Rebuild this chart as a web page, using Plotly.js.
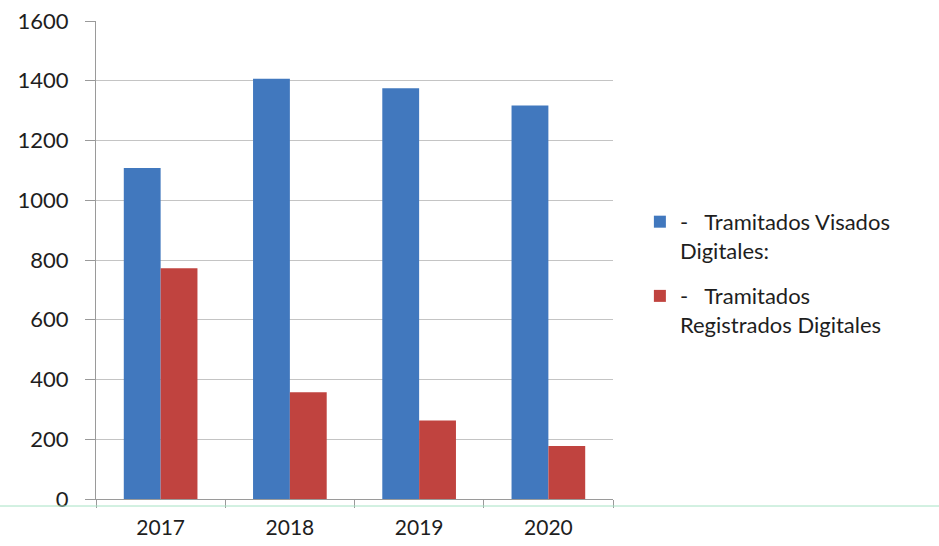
<!DOCTYPE html>
<html>
<head>
<meta charset="utf-8">
<script src="https://cdn.plot.ly/plotly-3.0.1.min.js"></script>
<style>html,body{margin:0;padding:0;background:#fff;}#chart{width:939px;height:546px;}</style>
</head>
<body>
<div id="chart"></div>
<script>
const years = ["2017", "2018", "2019", "2020"];
const visados = [1108, 1407, 1375, 1317];
const registrados = [772, 357, 263, 177];
const nameVisados = "-   Tramitados Visados<br>Digitales:";
const nameRegistrados = "-   Tramitados<br>Registrados Digitales";
const yTicks = [0, 200, 400, 600, 800, 1000, 1200, 1400, 1600];

const font = "Lato, 'Open Sans', sans-serif";

const data = [
  {type: "bar", x: years, y: visados, name: nameVisados, legendgroup: "a", marker: {color: "#4178BE"}},
  {type: "bar", x: years, y: registrados, name: nameRegistrados, legendgroup: "b", marker: {color: "#C0433F"}}
];

const layout = {
  width: 939, height: 546,
  margin: {l: 96, r: 326, t: 21, b: 47},
  paper_bgcolor: "#fff", plot_bgcolor: "#fff",
  font: {family: font, size: 22, color: "#1e1e1e"},
  barmode: "group",
  bargap: 0.43, bargroupgap: 0,
  xaxis: {
    type: "category", showgrid: false,
    showline: true, linecolor: "#9a9a9a", linewidth: 1,
    ticks: "outside", tickson: "boundaries", ticklen: 8, tickcolor: "#9a9a9a",
    ticklabelstandoff: 10,
    tickfont: {family: font, size: 21, color: "#1e1e1e"},
    fixedrange: true
  },
  yaxis: {
    range: [0, 1600], tickvals: yTicks,
    showgrid: true, gridcolor: "#c4c4c4", gridwidth: 1,
    showline: true, linecolor: "#9a9a9a", linewidth: 1,
    ticks: "outside", ticklen: 10, tickcolor: "#9a9a9a",
    ticklabelstandoff: 12,
    tickfont: {family: font, size: 22, color: "#1e1e1e"},
    zeroline: false, fixedrange: true
  },
  legend: {
    x: 1.052, y: 0.472, xanchor: "left", yanchor: "middle", valign: "top",
    font: {family: font, size: 22, color: "#1e1e1e"},
    tracegroupgap: 14, itemsizing: "constant", bgcolor: "rgba(0,0,0,0)"
  },
  showlegend: true,
  shapes: [
    {type: "line", xref: "paper", yref: "paper",
     x0: -96/517, x1: (939-96)/517, y0: -7/478, y1: -7/478,
     line: {color: "#a6e2c4", width: 1}}
  ]
};

Plotly.newPlot("chart", data, layout, {displayModeBar: false, staticPlot: true});
</script>
</body>
</html>
